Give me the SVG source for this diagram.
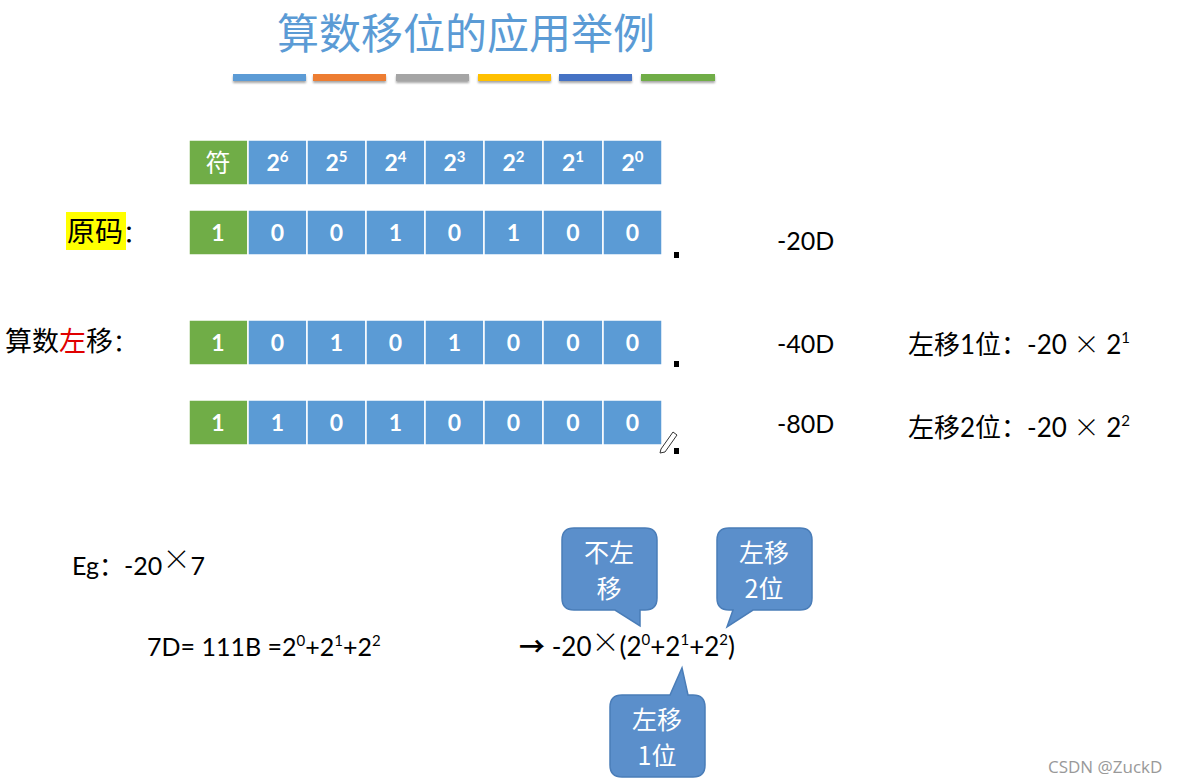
<svg xmlns="http://www.w3.org/2000/svg" width="1191" height="784" viewBox="0 0 1191 784">
<style>
.t{font-family:Lato,"Noto Sans CJK SC",sans-serif;fill:#000}
.c{font-family:"Noto Sans CJK SC",sans-serif}
.x{font-family:"Noto Sans CJK SC",sans-serif;font-weight:300}
.cell{stroke:#fff;stroke-width:1.5}
.g{fill:#70AD47}
.b{fill:#5B9BD5}
.ct{font-family:Lato,"Noto Sans CJK SC",sans-serif;font-weight:bold;font-size:23px;fill:#fff;text-anchor:middle}
.bubble{fill:#5B8FCB;stroke:#4A7DB8;stroke-width:1.5}
.bt{font-family:"Noto Sans CJK SC",Lato,sans-serif;font-size:25px;fill:#fff;text-anchor:middle}
.dot{fill:#000}
</style>
<defs>
<filter id="sh" x="-10%" y="-50%" width="120%" height="250%"><feDropShadow dx="0" dy="2" stdDeviation="1.2" flood-color="#000" flood-opacity="0.35"/></filter>
</defs>
<rect width="1191" height="784" fill="#fff"/>
<g id="title">
<text x="466" y="49" text-anchor="middle" class="c" font-size="42" fill="#5B9BD5">算数移位的应用举例</text>
</g>
<g id="colorbars" filter="url(#sh)">
<rect x="233" y="74" width="73" height="7" fill="#5B9BD5"/>
<rect x="313" y="74" width="73" height="7" fill="#ED7D31"/>
<rect x="396" y="74" width="73" height="7" fill="#A5A5A5"/>
<rect x="478" y="74" width="73" height="7" fill="#FFC000"/>
<rect x="559" y="74" width="73" height="7" fill="#4472C4"/>
<rect x="641" y="74" width="74" height="7" fill="#70AD47"/>
</g>
<g id="header">
<rect class="cell g" x="189" y="140" width="59" height="45"/>
<rect class="cell b" x="248" y="140" width="59" height="45"/>
<rect class="cell b" x="307" y="140" width="59" height="45"/>
<rect class="cell b" x="366" y="140" width="59" height="45"/>
<rect class="cell b" x="425" y="140" width="59" height="45"/>
<rect class="cell b" x="484" y="140" width="59" height="45"/>
<rect class="cell b" x="543" y="140" width="60" height="45"/>
<rect class="cell b" x="603" y="140" width="59" height="45"/>
<text x="218" y="172" class="c" font-size="25" fill="#fff" text-anchor="middle">符</text>
<text x="277.5" y="171" class="ct">2<tspan font-size="15" dy="-9">6</tspan></text>
<text x="336.5" y="171" class="ct">2<tspan font-size="15" dy="-9">5</tspan></text>
<text x="395.5" y="171" class="ct">2<tspan font-size="15" dy="-9">4</tspan></text>
<text x="454.5" y="171" class="ct">2<tspan font-size="15" dy="-9">3</tspan></text>
<text x="513.5" y="171" class="ct">2<tspan font-size="15" dy="-9">2</tspan></text>
<text x="573" y="171" class="ct">2<tspan font-size="15" dy="-9">1</tspan></text>
<text x="632.5" y="171" class="ct">2<tspan font-size="15" dy="-9">0</tspan></text>
</g>
<g id="row-original">
<rect x="66" y="212" width="60" height="38" fill="#FFFF00"/>
<text x="67" y="242" class="c" font-size="28">原码<tspan font-size="24">：</tspan></text>
<rect class="cell g" x="189" y="210" width="59" height="45"/>
<rect class="cell b" x="248" y="210" width="59" height="45"/>
<rect class="cell b" x="307" y="210" width="59" height="45"/>
<rect class="cell b" x="366" y="210" width="59" height="45"/>
<rect class="cell b" x="425" y="210" width="59" height="45"/>
<rect class="cell b" x="484" y="210" width="59" height="45"/>
<rect class="cell b" x="543" y="210" width="60" height="45"/>
<rect class="cell b" x="603" y="210" width="59" height="45"/>
<text x="218" y="241" class="ct">1</text>
<text x="277.5" y="241" class="ct">0</text>
<text x="336.5" y="241" class="ct">0</text>
<text x="395.5" y="241" class="ct">1</text>
<text x="454.5" y="241" class="ct">0</text>
<text x="513.5" y="241" class="ct">1</text>
<text x="573" y="241" class="ct">0</text>
<text x="632.5" y="241" class="ct">0</text>
<rect class="dot" x="674" y="252" width="5" height="6"/>
<text x="777" y="250" class="t" font-size="25">-20D</text>
</g>
<g id="row-shift1">
<text x="5" y="351" class="c" font-size="27">算数<tspan fill="#E00000">左</tspan>移<tspan font-size="24">：</tspan></text>
<rect class="cell g" x="189" y="320" width="59" height="45"/>
<rect class="cell b" x="248" y="320" width="59" height="45"/>
<rect class="cell b" x="307" y="320" width="59" height="45"/>
<rect class="cell b" x="366" y="320" width="59" height="45"/>
<rect class="cell b" x="425" y="320" width="59" height="45"/>
<rect class="cell b" x="484" y="320" width="59" height="45"/>
<rect class="cell b" x="543" y="320" width="60" height="45"/>
<rect class="cell b" x="603" y="320" width="59" height="45"/>
<text x="218" y="351" class="ct">1</text>
<text x="277.5" y="351" class="ct">0</text>
<text x="336.5" y="351" class="ct">1</text>
<text x="395.5" y="351" class="ct">0</text>
<text x="454.5" y="351" class="ct">1</text>
<text x="513.5" y="351" class="ct">0</text>
<text x="573" y="351" class="ct">0</text>
<text x="632.5" y="351" class="ct">0</text>
<rect class="dot" x="674" y="361" width="5" height="6"/>
<text x="777" y="353" class="t" font-size="25">-40D</text>
<text x="908" y="354" class="t" font-size="26">左移1位：-20 <tspan class="x">×</tspan> 2<tspan font-size="15" dy="-11">1</tspan></text>
</g>
<g id="row-shift2">
<rect class="cell g" x="189" y="400" width="59" height="45"/>
<rect class="cell b" x="248" y="400" width="59" height="45"/>
<rect class="cell b" x="307" y="400" width="59" height="45"/>
<rect class="cell b" x="366" y="400" width="59" height="45"/>
<rect class="cell b" x="425" y="400" width="59" height="45"/>
<rect class="cell b" x="484" y="400" width="59" height="45"/>
<rect class="cell b" x="543" y="400" width="60" height="45"/>
<rect class="cell b" x="603" y="400" width="59" height="45"/>
<text x="218" y="431" class="ct">1</text>
<text x="277.5" y="431" class="ct">1</text>
<text x="336.5" y="431" class="ct">0</text>
<text x="395.5" y="431" class="ct">1</text>
<text x="454.5" y="431" class="ct">0</text>
<text x="513.5" y="431" class="ct">0</text>
<text x="573" y="431" class="ct">0</text>
<text x="632.5" y="431" class="ct">0</text>
<rect class="dot" x="674" y="448" width="5" height="6"/>
<path d="M661 449 L673 432 L677 435 L665 452 L660 453 Z" fill="#fff" stroke="#333" stroke-width="1"/>
<text x="777" y="433" class="t" font-size="25">-80D</text>
<text x="908" y="437" class="t" font-size="26">左移2位：-20 <tspan class="x">×</tspan> 2<tspan font-size="15" dy="-11">2</tspan></text>
</g>
<g id="example">
<text x="72" y="575" class="t" font-size="25">Eg：-20<tspan class="x" font-size="28" dy="-5">×</tspan><tspan dy="5">7</tspan></text>
<text x="147" y="656" class="t" font-size="25">7D= 111B =2<tspan font-size="15" dy="-10">0</tspan><tspan dy="10">+2</tspan><tspan font-size="15" dy="-10">1</tspan><tspan dy="10">+2</tspan><tspan font-size="15" dy="-10">2</tspan></text>
<text x="519" y="656" class="t" font-size="26"><tspan class="c" font-weight="bold">→</tspan> -20<tspan class="x" font-size="28" dy="-3">×</tspan><tspan dy="3">(2</tspan><tspan font-size="15" dy="-11">0</tspan><tspan dy="11">+2</tspan><tspan font-size="15" dy="-11">1</tspan><tspan dy="11">+2</tspan><tspan font-size="15" dy="-11">2</tspan><tspan dy="11">)</tspan></text>
</g>
<g id="callout-no-shift">
<path class="bubble" d="M574 528 H645 Q657 528 657 540 V598 Q657 610 645 610 H640 V626 L615 610 H574 Q562 610 562 598 V540 Q562 528 574 528 Z"/>
<text class="bt"><tspan x="609" y="562">不左</tspan><tspan x="609" y="598">移</tspan></text>
</g>
<g id="callout-shift2">
<path class="bubble" d="M729 528 H800 Q812 528 812 540 V598 Q812 610 800 610 H753 L727 627 L733 610 H729 Q717 610 717 598 V540 Q717 528 729 528 Z"/>
<text class="bt"><tspan x="764" y="562">左移</tspan><tspan x="764" y="598">2位</tspan></text>
</g>
<g id="callout-shift1">
<path class="bubble" d="M622 695 H670 L682 668 L688 695 H693 Q705 695 705 707 V765 Q705 777 693 777 H622 Q610 777 610 765 V707 Q610 695 622 695 Z"/>
<text class="bt"><tspan x="657" y="729">左移</tspan><tspan x="657" y="765">1位</tspan></text>
</g>
<text x="1048" y="773" font-family="'Open Sans',sans-serif" font-size="17" fill="#999">CSDN @ZuckD</text>
</svg>
